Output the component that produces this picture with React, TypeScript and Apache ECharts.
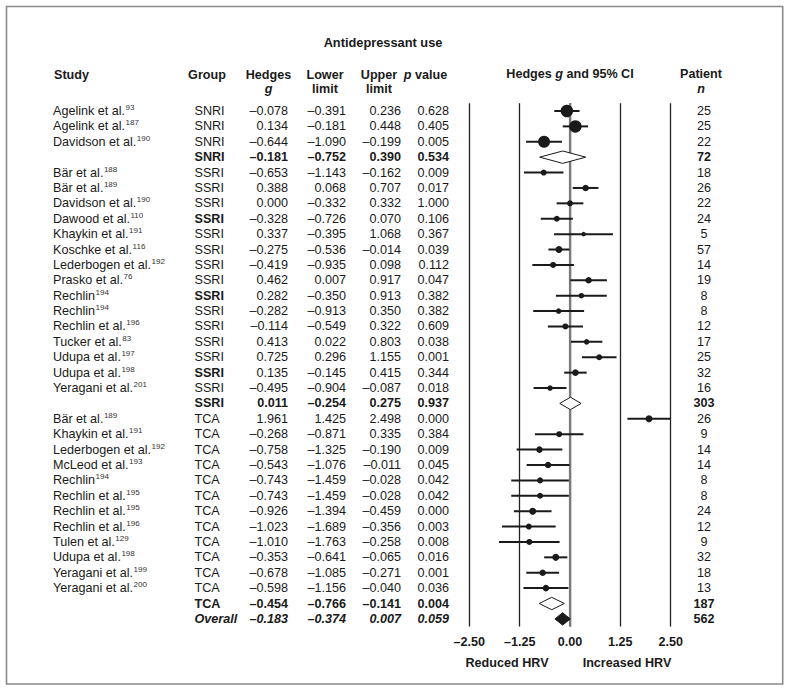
import React, { useEffect, useRef } from "react";
import * as echarts from "echarts";

// ---------------- DATA ----------------
const studyNames = [
  "Agelink et al.", "Agelink et al.", "Davidson et al.", "",
  "Bär et al.", "Bär et al.", "Davidson et al.", "Dawood et al.", "Khaykin et al.",
  "Koschke et al.", "Lederbogen et al.", "Prasko et al.", "Rechlin", "Rechlin",
  "Rechlin et al.", "Tucker et al.", "Udupa et al.", "Udupa et al.", "Yeragani et al.", "",
  "Bär et al.", "Khaykin et al.", "Lederbogen et al.", "McLeod et al.", "Rechlin",
  "Rechlin et al.", "Rechlin et al.", "Rechlin et al.", "Tulen et al.", "Udupa et al.",
  "Yeragani et al.", "Yeragani et al.", "", "",
];
const studyRefs = [
  "93", "187", "190", "",
  "188", "189", "190", "110", "191", "116", "192", "76", "194", "194", "196", "83", "197", "198", "201", "",
  "189", "191", "192", "193", "194", "195", "195", "196", "129", "198", "199", "200", "", "",
];
const groups = [
  "SNRI", "SNRI", "SNRI", "SNRI",
  "SSRI", "SSRI", "SSRI", "SSRI", "SSRI", "SSRI", "SSRI", "SSRI", "SSRI", "SSRI", "SSRI", "SSRI", "SSRI", "SSRI", "SSRI", "SSRI",
  "TCA", "TCA", "TCA", "TCA", "TCA", "TCA", "TCA", "TCA", "TCA", "TCA", "TCA", "TCA", "TCA", "Overall",
];
const hedgesG = [
  -0.078, 0.134, -0.644, -0.181,
  -0.653, 0.388, 0.0, -0.328, 0.337, -0.275, -0.419, 0.462, 0.282, -0.282, -0.114, 0.413, 0.725, 0.135, -0.495, 0.011,
  1.961, -0.268, -0.758, -0.543, -0.743, -0.743, -0.926, -1.023, -1.01, -0.353, -0.678, -0.598, -0.454, -0.183,
];
const lowerLimit = [
  -0.391, -0.181, -1.09, -0.752,
  -1.143, 0.068, -0.332, -0.726, -0.395, -0.536, -0.935, 0.007, -0.35, -0.913, -0.549, 0.022, 0.296, -0.145, -0.904, -0.254,
  1.425, -0.871, -1.325, -1.076, -1.459, -1.459, -1.394, -1.689, -1.763, -0.641, -1.085, -1.156, -0.766, -0.374,
];
const upperLimit = [
  0.236, 0.448, -0.199, 0.39,
  -0.162, 0.707, 0.332, 0.07, 1.068, -0.014, 0.098, 0.917, 0.913, 0.35, 0.322, 0.803, 1.155, 0.415, -0.087, 0.275,
  2.498, 0.335, -0.19, -0.011, -0.028, -0.028, -0.459, -0.356, -0.258, -0.065, -0.271, -0.04, -0.141, 0.007,
];
const pValues = [
  0.628, 0.405, 0.005, 0.534,
  0.009, 0.017, 1.0, 0.106, 0.367, 0.039, 0.112, 0.047, 0.382, 0.382, 0.609, 0.038, 0.001, 0.344, 0.018, 0.937,
  0.0, 0.384, 0.009, 0.045, 0.042, 0.042, 0.0, 0.003, 0.008, 0.016, 0.001, 0.036, 0.004, 0.059,
];
const patientN = [
  25, 25, 22, 72,
  18, 26, 22, 24, 5, 57, 14, 19, 8, 8, 12, 17, 25, 32, 16, 303,
  26, 9, 14, 14, 8, 8, 24, 12, 9, 32, 18, 13, 187, 562,
];
const rowKind = [
  "study", "study", "study", "subtotal",
  "study", "study", "study", "study", "study", "study", "study", "study", "study", "study", "study", "study", "study", "study", "study", "subtotal",
  "study", "study", "study", "study", "study", "study", "study", "study", "study", "study", "study", "study", "subtotal", "overall",
];
const boldGroupRows = [7, 12, 17];
const xTickLabels = ["–2.50", "–1.25", "0.00", "1.25", "2.50"];
const xMin = -2.5;
const xMax = 2.5;
const xInterval = 1.25;

const titleText = "Antidepressant use";
const sideLabels = ["Reduced HRV", "Increased HRV"];

// ---------------- STYLE ----------------
const INK = "#1a1a1a";
const FONT = '"Liberation Sans", Arial, Helvetica, sans-serif';
const FS = 12.6;
// marker diameters (px) (study weights)
const markerDiameter = [
  12.5, 12.5, 12, 0,
  6, 6.5, 6, 6, 4.5, 7, 6, 6.5, 5.5, 5.5, 6, 5.5, 6, 6.5, 5.5, 0,
  7, 6, 6.5, 6.5, 6, 6, 7, 6, 6, 7, 6.5, 6.5, 0, 0,
];
const COL = {
  study: 53,
  group: 194.5,
  g: 288,
  lower: 346,
  upper: 401,
  p: 449,
  n: 704,
};

const fmt = (v: number) => (v < 0 ? "–" : "") + Math.abs(v).toFixed(3);

function txt(
  x: number,
  y: number,
  text: string,
  align: string,
  bold = false,
  italic = false
) {
  return {
    type: "text",
    x,
    y,
    silent: true,
    style: {
      text,
      fill: INK,
      fontFamily: FONT,
      fontSize: FS,
      fontWeight: bold ? "bold" : "normal",
      fontStyle: italic ? "italic" : "normal",
      align,
      verticalAlign: "middle",
    },
  };
}

function richTxt(x: number, y: number, text: string, align: string) {
  return {
    type: "text",
    x,
    y,
    silent: true,
    style: {
      text,
      align,
      verticalAlign: "middle",
      rich: {
        n: { fontFamily: FONT, fontSize: FS, fill: INK, lineHeight: 15 },
        b: { fontFamily: FONT, fontSize: FS, fill: INK, fontWeight: "bold", lineHeight: 15 },
        i: {
          fontFamily: FONT,
          fontSize: FS,
          fill: INK,
          fontWeight: "bold",
          fontStyle: "italic",
          lineHeight: 15,
        },
        s: {
          fontFamily: FONT,
          fontSize: 8,
          fill: "#333",
          verticalAlign: "top",
          lineHeight: 9,
          padding: [0, 0, 0, 0.5],
        },
      },
    },
  };
}

export default function App() {
  const ref = useRef<HTMLDivElement>(null);

  useEffect(() => {
    document.body.style.margin = "0";
    const chart = echarts.init(ref.current!, null, { renderer: "svg" });
    const rows = hedgesG.map((_, i) => String(i));

    const option: any = {
      animation: false,
      backgroundColor: "#ffffff",
      grid: {
        left: 469.3,
        right: 120.3,
        top: 103.3,
        bottom: 65.4,
        containLabel: false,
        outerBoundsMode: "none",
      },
      xAxis: {
        type: "value",
        min: xMin,
        max: xMax,
        interval: xInterval,
        axisLine: { show: false },
        axisTick: { show: false },
        splitLine: { show: true, lineStyle: { color: "#222", width: 1.3 } },
        axisLabel: {
          margin: 9,
          color: INK,
          fontFamily: FONT,
          fontSize: FS,
          fontWeight: "bold",
          formatter: (v: number) =>
            xTickLabels[Math.round((v - xMin) / xInterval)] ?? "",
        },
      },
      yAxis: {
        type: "category",
        data: rows,
        inverse: true,
        show: false,
      },
      graphic: [
        {
          type: "rect",
          shape: { x: 6.5, y: 6.5, width: 776.2, height: 677.5 },
          style: { fill: "none", stroke: "#8a8a8a", lineWidth: 1.6 },
          silent: true,
        },
        {
          type: "text",
          x: 383,
          y: 42,
          style: {
            text: titleText,
            fill: INK,
            fontFamily: FONT,
            fontSize: 12.8,
            fontWeight: "bold",
            align: "center",
            verticalAlign: "middle",
          },
        },
        txt(54, 75, "Study", "left", true),
        txt(207, 75, "Group", "center", true),
        txt(268.5, 75, "Hedges", "center", true),
        txt(268.5, 89, "g", "center", true, true),
        txt(325, 75, "Lower", "center", true),
        txt(325, 89, "limit", "center", true),
        txt(379, 75, "Upper", "center", true),
        txt(379, 89, "limit", "center", true),
        richTxt(425.5, 75, "{i|p}{b| value}", "center"),
        richTxt(570, 73.5, "{b|Hedges }{i|g}{b| and 95% CI}", "center"),
        txt(701, 73.5, "Patient", "center", true),
        txt(701, 88.5, "n", "center", true, true),
        txt(507, 663, sideLabels[0], "center", true),
        txt(627, 663, sideLabels[1], "center", true),
      ],
      series: [
        {
          // vertical reference line at 0
          type: "custom",
          z: 1,
          silent: true,
          data: [[0, 0]],
          renderItem: (params: any, api: any) => {
            const cs = params.coordSys;
            const x0 = api.coord([0, 0])[0];
            return {
              type: "line",
              shape: { x1: x0, y1: cs.y, x2: x0, y2: cs.y + cs.height },
              style: { stroke: "#7a7a7a", lineWidth: 2.2 },
            };
          },
        },
        {
          // CIs, markers and diamonds
          type: "custom",
          z: 3,
          silent: true,
          data: hedgesG.map((g, i) => [g, i]),
          renderItem: (params: any, api: any) => {
            const i = params.dataIndex;
            const [xg, y] = api.coord([hedgesG[i], i]);
            const xl = api.coord([lowerLimit[i], i])[0];
            const xu = api.coord([upperLimit[i], i])[0];
            const kind = rowKind[i];
            if (kind === "study") {
              return {
                type: "group",
                children: [
                  {
                    type: "line",
                    shape: { x1: xl, y1: y, x2: xu, y2: y },
                    style: { stroke: INK, lineWidth: 2 },
                  },
                  {
                    type: "circle",
                    shape: { cx: xg, cy: y, r: markerDiameter[i] / 2 },
                    style: { fill: INK },
                  },
                ],
              };
            }
            const h = 6.2;
            return {
              type: "polygon",
              shape: {
                points: [
                  [xl, y],
                  [xg, y - h],
                  [xu, y],
                  [xg, y + h],
                ],
              },
              style: {
                fill: kind === "overall" ? INK : "#ffffff",
                stroke: INK,
                lineWidth: 1,
              },
            };
          },
        },
        {
          // table columns
          type: "custom",
          z: 4,
          silent: true,
          data: hedgesG.map((_, i) => [0, i]),
          renderItem: (params: any, api: any) => {
            const i = params.dataIndex;
            const y = api.coord([0, i])[1];
            const kind = rowKind[i];
            const summary = kind !== "study";
            const italic = kind === "overall";
            const children: any[] = [];
            if (studyNames[i]) {
              children.push(
                richTxt(
                  COL.study,
                  y,
                  `{n|${studyNames[i]}}{s|${studyRefs[i]}}`,
                  "left"
                )
              );
            }
            const groupBold = summary || boldGroupRows.includes(i);
            children.push(txt(COL.group, y, groups[i], "left", groupBold, italic));
            children.push(txt(COL.g, y, fmt(hedgesG[i]), "right", summary, italic));
            children.push(txt(COL.lower, y, fmt(lowerLimit[i]), "right", summary, italic));
            children.push(txt(COL.upper, y, fmt(upperLimit[i]), "right", summary, italic));
            children.push(txt(COL.p, y, fmt(pValues[i]), "right", summary, italic));
            children.push(txt(COL.n, y, String(patientN[i]), "center", summary));
            return { type: "group", children };
          },
        },
      ],
    };

    chart.setOption(option);
    return () => chart.dispose();
  }, []);

  return (
    <div
      ref={ref}
      style={{ position: "absolute", left: 0, top: 0, width: 791, height: 692 }}
    />
  );
}
